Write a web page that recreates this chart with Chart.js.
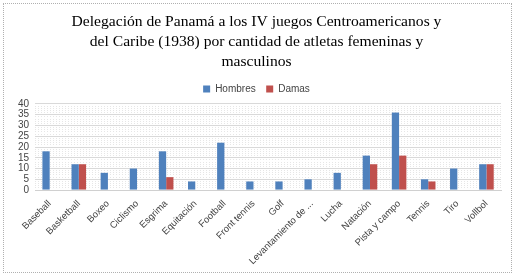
<!DOCTYPE html>
<html>
<head>
<meta charset="utf-8">
<script src="https://cdn.jsdelivr.net/npm/chart.js@4"></script>
<style>
  body { margin: 0; background: #fff; }
  #wrap { position: absolute; left: 3px; top: 3px; width: 507px; height: 268px; border: 1px dotted #b0b0b0; }
</style>
</head>
<body>
<div id="wrap"><canvas id="chart"></canvas></div>
<script>
// deportes
let deportes = ['Baseball', 'Basketball', 'Boxeo', 'Ciclismo', 'Esgrima', 'Equitación', 'Football',
  'Front tennis', 'Golf', 'Levantamiento de pesas', 'Lucha', 'Natación', 'Pista y campo', 'Tennis', 'Tiro', 'Vollbol'];
let hombres = [18, 12, 8, 10, 18, 4, 22, 4, 4, 5, 8, 16, 36, 5, 10, 12];
let damas = [0, 12, 0, 0, 6, 0, 0, 0, 0, 0, 0, 12, 16, 4, 0, 12];
let titulo = ['Delegación de Panamá a los IV juegos Centroamericanos y',
  'del Caribe (1938) por cantidad de atletas femeninas y', 'masculinos'];

let ctx = document.getElementById('chart').getContext('2d');

let myChart = new Chart(ctx, {
  type: 'bar',
  data: {
    labels: deportes,
    datasets: [{
      label: 'Hombres',
      data: hombres,
      backgroundColor: '#4f81bd',
      barPercentage: 1,
      categoryPercentage: 0.5
    }, {
      label: 'Damas',
      data: damas,
      backgroundColor: '#c0504d',
      barPercentage: 1,
      categoryPercentage: 0.5
    }]
  },
  options: {
    responsive: true,
    maintainAspectRatio: false,
    animation: false,
    layout: { padding: { left: 8, right: 10, top: 2, bottom: 5 } },
    plugins: {
      title: {
        display: true,
        text: titulo,
        color: '#000',
        font: { family: 'Liberation Serif', size: 15.6, weight: 'normal', lineHeight: 1.27 },
        padding: { top: 6, bottom: 2 }
      },
      legend: {
        labels: {
          boxWidth: 7, boxHeight: 7, color: '#444',
          font: { family: 'Liberation Sans', size: 10 },
          padding: 10.5
        }
      },
      tooltip: { enabled: false }
    },
    scales: {
      x: {
        grid: { display: false },
        border: { color: '#d0d0d0' },
        ticks: {
          color: '#444', maxRotation: 45, minRotation: 45, autoSkip: false, padding: 0,
          font: { family: 'Liberation Sans', size: 9.5 },
          callback: function (v) {
            let s = this.getLabelForValue(v);
            return s.length > 18 ? s.slice(0, 17) + '...' : s;
          }
        }
      },
      y: {
        min: 0, max: 40,
        ticks: {
          stepSize: 1, autoSkip: false, color: '#444', padding: 6,
          font: { family: 'Liberation Sans', size: 10 },
          callback: v => v % 5 === 0 ? v : ''
        },
        grid: {
          drawTicks: false,
          color: c => c.tick.value % 5 === 0 ? '#d9d9d9' : '#e6e6e6'
        },
        border: { display: false, dash: c => c.tick && c.tick.value % 5 !== 0 ? [1, 2] : [] }
      }
    }
  }
});
</script>
</body>
</html>
